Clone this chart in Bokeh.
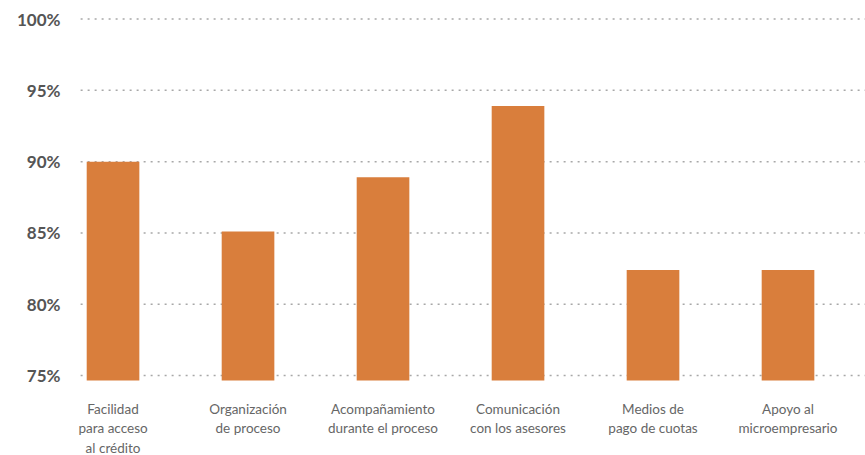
from bokeh.plotting import figure
from bokeh.models import Range1d, FixedTicker, PrintfTickFormatter, ColumnDataSource
from bokeh.core.properties import value
from bokeh.embed import file_html
from bokeh.resources import INLINE

categories = [
    "Facilidad\npara acceso\nal crédito",
    "Organización\nde proceso",
    "Acompañamiento\ndurante el proceso",
    "Comunicación\ncon los asesores",
    "Medios de\npago de cuotas",
    "Apoyo al\nmicroempresario",
]
values = [90.0, 85.1, 88.9, 93.9, 82.4, 82.4]
y_ticks = [75, 80, 85, 90, 95, 100]

idx = list(range(len(categories)))
base = 74.65
x_start, grid_start, x_end = -0.315, -0.24, 5.574
src = ColumnDataSource(dict(x=idx, top=values, bottom=[base] * len(values),
                            label=categories))

p = figure(width=865, height=455, output_backend="svg", toolbar_location=None,
           x_range=Range1d(x_start, x_end), y_range=Range1d(69.39, 100.81),
           min_border_left=70, min_border_right=0, min_border_top=7, min_border_bottom=0)
p.outline_line_color = None
p.background_fill_color = "white"
p.border_fill_color = "white"
p.grid.visible = False

# dotted horizontal grid lines at the y ticks
p.segment(x0=[grid_start] * len(y_ticks), x1=[x_end] * len(y_ticks),
          y0=y_ticks, y1=y_ticks, line_color="#a8a8a8", line_dash="2 5",
          line_width=1.5, level="underlay")

p.vbar(x="x", top="top", bottom="bottom", width=0.39, source=src,
       fill_color="#D97E3C", line_color=None)

ya = p.yaxis[0]
ya.ticker = FixedTicker(ticks=y_ticks)
ya.formatter = PrintfTickFormatter(format="%d%%")
ya.axis_line_color = None
ya.major_tick_line_color = None
ya.minor_tick_line_color = None
ya.major_label_text_font = "Lato"
ya.major_label_text_font_style = "bold"
ya.major_label_text_font_size = "17px"
ya.major_label_text_color = "#555555"
ya.major_label_standoff = 4

p.xaxis.visible = False

p.text(x="x", y="bottom", text="label", source=src,
       y_offset=20, text_align="center", text_baseline="top",
       text_font=value("Lato"), text_font_size="13.5px",
       text_color="#666666", text_line_height=1.22)

open("out.html", "w").write(file_html(p, INLINE))
